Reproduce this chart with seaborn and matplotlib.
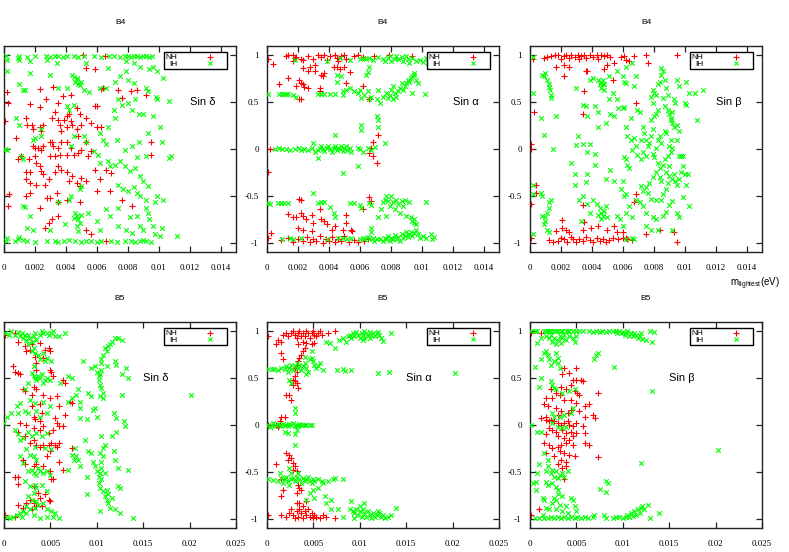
import numpy as np
import pandas as pd
import matplotlib
matplotlib.use("Agg")
import matplotlib.pyplot as plt
from matplotlib.lines import Line2D
from matplotlib.ticker import FuncFormatter, MultipleLocator
import seaborn as sns

# points: (m_lightest in units of 1e-3 eV, sin value)

# ---------- B4, sin delta ----------
b4_delta_nh = [
    (0.2, 0.61), (0.28, 0.49), (0.06, 0.30), (0.3, -0.48), (0.24, -0.61), (2.33, 0.64),
    (1.7, 0.48), (2.3, 0.45), (2.7, 0.53), (3.2, 0.66), (3.5, 0.49), (3.8, 0.57), (4.3, 0.58),
    (4.7, 0.44), (4.9, 0.37), (5.9, 0.46), (6.0, 0.46), (6.25, 0.64), (6.4, 0.65), (7.4, 0.63),
    (7.6, 0.55), (8.2, 0.62), (8.6, 0.63), (9.2, 0.58), (5.1, 1.0), (5.3, 0.86), (5.9, 0.85),
    (1.4, 0.33), (1.5, 0.26), (1.8, 0.26), (1.9, 0.21), (2.3, 0.24), (2.4, 0.19), (2.5, 0.26),
    (3.1, 0.33), (3.3, 0.39), (3.5, 0.31), (3.6, 0.26), (3.9, 0.31), (4.05, 0.35), (4.2, 0.37),
    (4.3, 0.30), (4.4, 0.26), (4.05, 0.23), (3.7, 0.19), (4.7, 0.21), (4.8, 0.14), (5.0, 0.26),
    (5.3, 0.33), (5.6, 0.28), (6.0, 0.23), (6.3, 0.24),
    (1.9, 0.03), (2.0, 0.01), (2.2, 0.01), (2.4, -0.01), (2.5, 0.03), (3.0, 0.08), (3.1, 0.07),
    (3.2, 0.03), (3.5, 0.01), (3.7, 0.08), (4.05, 0.07), (4.3, 0.01), (4.5, -0.06), (4.8, -0.04),
    (5.0, -0.01), (5.3, 0.08), (5.45, -0.08), (5.6, -0.02), (4.05, -0.06), (3.6, -0.06),
    (3.3, -0.08), (3.0, -0.08), (2.0, -0.08), (1.6, -0.11), (1.1, -0.08), (0.8, 0.12), (0.9, -0.11),
    (1.4, -0.25), (1.7, -0.25), (1.4, -0.32), (1.7, -0.36), (2.1, -0.15), (2.3, -0.18),
    (2.4, -0.24), (2.5, -0.27), (2.1, -0.38), (2.65, -0.38), (2.9, -0.32), (3.3, -0.25),
    (3.5, -0.18), (3.7, -0.22), (4.05, -0.25), (4.2, -0.34), (4.4, -0.29), (4.7, -0.36),
    (5.0, -0.31), (5.3, -0.34), (5.9, -0.22), (6.0, -0.45), (6.2, -0.32), (6.6, -0.22),
    (6.85, -0.45), (6.95, -0.26),
    (1.4, -0.50), (1.7, -0.47), (2.8, -0.52), (3.0, -0.52), (3.4, -0.47), (3.5, -0.57),
    (4.05, -0.54), (2.3, -0.63), (4.9, -0.57), (4.9, -0.40), (3.1, -0.75), (2.9, -0.79),
    (2.65, -0.84), (3.5, -0.72), (5.3, -0.86), (5.6, -0.91), (6.6, -0.98), (7.6, -0.54),
    (8.25, -0.61), (9.5, -0.06), (9.5, 0.07), (6.5, 0.99),
]
b4_delta_ih = [
    (0.1, 0.99), (1.0, 0.99), (1.5, 0.98), (2.0, 0.99), (2.7, 0.99), (3.0, 0.98), (3.3, 0.99),
    (3.5, 0.99), (3.8, 0.98), (4.1, 0.99), (4.5, 0.99), (4.8, 0.98), (5.2, 0.99), (5.8, 0.99),
    (6.3, 0.98), (6.8, 0.99), (7.1, 0.99), (7.5, 0.98), (7.8, 0.99), (8.0, 0.99), (8.2, 0.98),
    (8.4, 0.99), (8.6, 0.99), (8.8, 0.98), (9.0, 0.99), (9.2, 0.99), (9.4, 0.98), (9.6, 0.99),
    (0.17, 0.95), (0.9, 0.97), (1.0, 0.95), (1.7, 0.94), (2.75, 0.95), (3.4, 0.92), (5.3, 0.92),
    (6.75, 0.86), (7.9, 0.94), (8.4, 0.92), (8.8, 0.88), (9.4, 0.85), (9.65, 0.88), (9.9, 0.83),
    (10.3, 0.76), (4.7, 0.74), (4.5, 0.77), (4.6, 0.72), (4.8, 0.69), (4.9, 0.68), (4.7, 0.76),
    (5.0, 0.72), (4.4, 0.79), (0.2, 0.83), (1.0, 0.69), (1.25, 0.63), (1.35, 0.63), (1.7, 0.81),
    (3.0, 0.79), (3.5, 0.65), (4.05, 0.65), (5.2, 0.63), (5.5, 0.61), (6.2, 0.65), (6.6, 0.65),
    (7.2, 0.72), (7.5, 0.78), (7.9, 0.83), (8.0, 0.74), (8.4, 0.70), (9.2, 0.65), (9.3, 0.62),
    (9.8, 0.56), (9.9, 0.53), (10.7, 0.51),
    (0.8, 0.33), (1.0, 0.26), (1.9, 0.10), (2.0, 0.12), (2.4, 0.21), (4.05, 0.46), (4.2, 0.42),
    (4.5, 0.47), (4.5, 0.14), (5.2, 0.14), (5.3, 0.07), (6.2, 0.17), (6.4, 0.10), (6.6, 0.05),
    (6.75, 0.24), (7.1, 0.42), (7.2, 0.33), (7.4, 0.53), (7.6, 0.47), (8.0, 0.49), (8.25, 0.42),
    (8.5, 0.53), (8.7, 0.37), (9.0, 0.37), (9.65, 0.35), (10.1, 0.24), (9.3, 0.17), (10.2, 0.07),
    (10.8, -0.08), (10.7, -0.10), (7.3, 0.10), (7.8, -0.01), (8.25, 0.03), (8.7, 0.07),
    (8.6, -0.09), (9.2, -0.08),
    (0.06, 0.0), (0.17, -0.01), (1.1, -0.08), (1.25, -0.11), (2.4, 0.14), (4.3, 0.03),
    (5.8, -0.02), (6.1, -0.06), (6.2, -0.15), (6.75, -0.13), (6.85, -0.18), (7.2, -0.17),
    (7.5, -0.13), (7.8, -0.18), (8.15, -0.24), (8.5, -0.20), (8.8, -0.29), (9.0, -0.34),
    (9.3, -0.40), (7.4, -0.38), (7.7, -0.43), (8.0, -0.45), (8.4, -0.41), (8.6, -0.47),
    (8.8, -0.50), (9.2, -0.54), (9.75, -0.57), (10.3, -0.54), (9.9, -0.50),
    (1.25, -0.61), (1.35, -0.62), (1.7, -0.72), (1.5, -0.84), (1.9, -0.86), (3.0, -0.86),
    (3.5, -0.57), (3.95, -0.80), (4.2, -0.54), (4.3, -0.50), (4.9, -0.43), (5.0, -0.40),
    (4.7, -0.72), (4.6, -0.68), (4.8, -0.75), (4.9, -0.79), (4.7, -0.82), (4.5, -0.74),
    (5.0, -0.70), (4.8, -0.88), (5.45, -0.68), (6.0, -0.77), (6.2, -0.86), (6.6, -0.64),
    (6.85, -0.72), (7.4, -0.63), (7.4, -0.82), (7.9, -0.86), (8.15, -0.73), (8.25, -0.90),
    (8.6, -0.72), (8.8, -0.82), (9.0, -0.86), (9.2, -0.63), (9.3, -0.68), (9.4, -0.75),
    (9.65, -0.82), (9.75, -0.91), (10.1, -0.93), (10.2, -0.84), (11.2, -0.93),
    (0.1, -0.98), (0.7, -0.98), (1.2, -0.97), (1.5, -0.98), (2.0, -0.99), (2.8, -0.98),
    (3.3, -0.98), (3.5, -0.99), (3.9, -0.98), (4.2, -0.97), (4.6, -0.98), (5.0, -0.99),
    (5.3, -0.98), (5.6, -0.98), (6.0, -0.99), (6.3, -0.98), (6.9, -0.98), (7.3, -0.99),
    (7.8, -0.98), (8.2, -0.98), (8.5, -0.99), (8.8, -0.98), (9.0, -0.97), (9.2, -0.98),
    (9.5, -0.99), (0.17, -0.95), (0.9, -0.96), (1.0, -0.94),
]

# ---------- B4, sin alpha ----------
b4_alpha_nh = [
    (0.06, 0.96), (0.4, 0.91), (1.25, 0.99), (1.35, 1.0), (1.7, 1.0), (1.8, 0.97), (1.9, 0.98),
    (2.2, 0.96), (2.3, 0.95), (2.65, 0.99), (3.0, 0.96), (3.3, 1.0), (3.5, 0.98), (3.7, 1.0),
    (3.85, 0.95), (4.05, 0.99), (4.4, 1.0), (4.5, 0.97), (4.6, 0.94), (4.8, 0.99), (5.0, 1.0),
    (5.1, 0.96), (5.6, 0.99), (5.9, 1.0), (6.2, 0.98), (6.95, 0.99), (7.9, 1.0), (9.4, 0.99),
    (1.7, 0.94), (2.3, 0.87), (2.8, 0.88), (3.1, 0.90), (2.65, 0.83), (3.1, 0.83), (3.5, 0.79),
    (3.6, 0.78), (3.7, 0.81), (4.3, 0.88), (4.5, 0.88), (4.7, 0.85), (5.0, 0.88), (5.35, 0.82),
    (1.35, 0.76), (2.1, 0.74), (2.2, 0.70), (2.3, 0.69), (2.4, 0.66), (2.65, 0.65), (1.9, 0.67),
    (0.8, 0.69), (3.4, 0.65), (3.4, 0.62), (5.1, 0.70), (6.2, 0.67), (6.6, 0.53), (2.1, 0.53),
    (2.2, 0.53),
    (0.17, 0.0), (6.85, 0.08), (6.75, 0.01), (6.6, -0.04), (6.85, -0.08), (7.1, -0.15),
    (7.2, 0.15), (0.06, -0.25),
    (2.1, -0.53), (2.2, -0.54), (0.28, -0.90), (0.06, -0.95), (1.35, -0.69), (1.7, -0.73),
    (1.9, -0.73), (2.2, -0.68), (2.3, -0.72), (2.5, -0.75), (2.9, -0.70), (3.0, -0.79),
    (3.4, -0.64), (3.5, -0.75), (3.7, -0.77), (3.85, -0.80), (4.4, -0.82), (5.1, -0.70),
    (5.1, -0.79), (6.6, -0.51), (6.75, -0.56), (6.2, -0.64), (2.0, -0.84), (2.3, -0.86),
    (2.9, -0.88), (4.2, -0.86), (4.9, -0.86), (5.45, -0.86), (5.5, -0.88),
    (0.9, -0.97), (1.35, -0.95), (1.7, -0.99), (2.0, -0.96), (2.3, -0.98), (2.6, -0.94),
    (2.8, -0.99), (3.0, -0.96), (3.2, -0.98), (3.4, -0.93), (3.6, -1.0), (3.8, -0.96),
    (4.0, -0.98), (4.2, -0.94), (4.4, -0.99), (4.6, -0.96), (4.8, -0.98), (5.0, -0.93),
    (5.3, -0.99), (5.6, -0.97), (5.9, -0.99), (6.3, -0.98), (6.5, -0.96),
]
b4_alpha_ih = [
    (1.8, 0.95), (3.85, 0.94), (4.7, 0.97), (5.35, 0.95), (6.0, 0.96), (6.2, 0.97), (6.4, 0.96),
    (6.6, 0.97), (6.85, 0.95), (7.2, 0.98), (7.5, 0.96), (7.6, 0.94), (7.8, 0.97), (7.95, 0.99),
    (8.0, 0.94), (8.25, 0.96), (8.35, 0.99), (8.5, 0.96), (8.7, 0.98), (8.8, 0.94), (9.0, 0.99),
    (9.1, 0.96), (9.2, 0.92), (9.4, 0.97), (9.65, 0.94), (9.9, 0.95), (10.1, 0.93), (10.3, 0.97),
    (10.4, 0.92), (4.5, 0.79), (4.5, 0.72), (4.8, 0.78), (6.4, 0.79), (6.5, 0.82), (6.6, 0.88),
    (0.06, 0.59), (0.8, 0.59), (1.0, 0.59), (1.1, 0.59), (1.25, 0.59), (1.35, 0.59), (1.7, 0.58),
    (1.9, 0.56), (3.3, 0.59), (3.5, 0.59), (3.7, 0.59), (4.05, 0.59), (4.4, 0.59), (4.9, 0.58),
    (4.9, 0.62), (5.1, 0.63), (5.35, 0.65), (5.6, 0.62), (5.9, 0.60), (6.0, 0.63), (6.1, 0.55),
    (6.3, 0.58), (6.5, 0.62), (6.75, 0.56), (6.6, 0.53), (7.1, 0.53), (7.2, 0.63), (7.3, 0.49),
    (7.5, 0.56), (7.7, 0.60), (7.95, 0.58), (8.0, 0.63), (8.15, 0.67), (8.25, 0.60), (8.35, 0.56),
    (8.5, 0.62), (8.6, 0.65), (8.7, 0.70), (8.8, 0.63), (8.9, 0.67), (9.0, 0.70), (9.1, 0.74),
    (9.2, 0.72), (9.3, 0.76), (9.4, 0.78), (9.5, 0.79), (9.65, 0.74), (9.5, 0.81), (9.75, 0.70),
    (9.4, 0.60), (10.2, 0.59), (8.15, 0.53), (7.8, 0.55),
    (0.5, 0.0), (0.8, 0.01), (1.0, 0.0), (1.25, 0.0), (1.5, -0.01), (1.8, 0.0), (2.1, 0.01),
    (2.2, -0.01), (2.4, 0.0), (2.65, -0.01), (2.9, 0.01), (3.0, 0.06), (3.1, -0.03), (3.3, -0.01),
    (3.4, 0.01), (3.5, 0.03), (3.6, 0.0), (3.7, -0.02), (3.85, 0.01), (3.95, 0.03), (4.05, 0.0),
    (4.2, -0.03), (4.3, 0.01), (4.4, 0.15), (4.4, 0.03), (4.5, -0.01), (4.6, 0.01), (4.7, 0.0),
    (4.8, 0.03), (4.9, -0.02), (5.0, 0.01), (5.1, 0.03), (5.2, -0.01), (5.35, 0.01),
    (5.45, -0.03), (5.9, 0.01), (6.0, 0.0), (6.1, 0.26), (6.1, 0.20), (5.9, -0.18),
    (4.9, -0.26), (3.3, -0.10), (6.2, -0.03), (6.5, 0.01), (6.75, -0.01), (7.1, 0.35),
    (7.2, 0.31), (7.2, 0.24), (7.6, 0.06), (7.0, 0.02),
    (0.06, -0.58), (0.17, -0.59), (0.7, -0.58), (0.9, -0.58), (1.1, -0.58), (1.35, -0.58),
    (3.0, -0.47), (3.3, -0.58), (3.5, -0.57), (3.7, -0.57), (4.05, -0.62), (4.3, -0.68),
    (4.4, -0.73), (5.35, -0.58), (5.6, -0.58), (6.0, -0.60), (6.1, -0.63), (6.6, -0.58),
    (6.75, -0.60), (7.2, -0.73), (7.4, -0.64), (7.5, -0.57), (7.6, -0.54), (7.7, -0.50),
    (7.8, -0.56), (7.95, -0.61), (8.0, -0.50), (8.15, -0.57), (8.25, -0.64), (8.35, -0.54),
    (8.5, -0.59), (8.6, -0.68), (8.7, -0.56), (8.8, -0.61), (8.9, -0.54), (9.0, -0.72),
    (9.2, -0.57), (10.3, -0.57), (7.7, -0.72),
    (9.3, -0.73), (9.4, -0.77), (9.5, -0.79), (9.65, -0.80), (9.5, -0.75), (6.75, -0.84),
    (6.75, -0.89),
    (1.0, -0.96), (1.5, -0.95), (1.7, -0.96), (2.2, -0.95), (3.85, -0.96), (4.6, -0.95),
    (4.9, -0.95), (5.2, -0.96), (5.45, -0.95), (6.0, -0.96), (6.2, -0.95), (6.3, -0.96),
    (6.5, -0.94), (6.6, -0.96), (6.85, -0.95), (6.95, -0.98), (7.1, -0.96), (7.3, -0.96),
    (7.5, -0.98), (7.6, -0.95), (7.7, -0.96), (7.8, -0.93), (7.95, -0.98), (8.0, -0.95),
    (8.15, -0.96), (8.25, -0.92), (8.35, -0.96), (8.5, -0.94), (8.6, -0.98), (8.7, -0.91),
    (8.8, -0.95), (8.9, -0.93), (9.0, -0.89), (9.1, -0.94), (9.2, -0.91), (9.3, -0.89),
    (9.4, -0.93), (9.5, -0.90), (9.65, -0.86), (9.75, -0.91), (9.9, -0.95), (10.1, -0.93),
    (10.3, -0.95), (10.6, -0.91), (10.7, -0.96), (10.8, -0.94),
]

# ---------- B4, sin beta ----------
b4_beta_nh = [
    (0.17, 0.96), (0.9, 0.97), (1.1, 0.98), (1.35, 0.99), (1.6, 1.0), (1.8, 1.0), (2.0, 0.96),
    (2.2, 0.99), (2.3, 1.0), (2.5, 0.97), (2.65, 1.0), (2.9, 0.98), (3.1, 1.0), (3.2, 0.96),
    (3.3, 0.99), (3.5, 1.0), (3.6, 0.97), (3.85, 1.0), (4.05, 0.98), (4.3, 1.0), (4.4, 0.96),
    (4.6, 1.0), (4.8, 0.99), (5.0, 1.0), (5.2, 0.98), (5.0, 0.90), (5.45, 0.92), (5.9, 0.98),
    (6.1, 0.99), (6.2, 0.95), (6.4, 0.94), (6.75, 0.99), (7.5, 1.0), (7.6, 0.92), (9.5, 1.0),
    (1.7, 0.88), (2.2, 0.90), (2.5, 0.88), (2.2, 0.78), (3.6, 0.83), (3.7, 0.83), (4.8, 0.85),
    (5.35, 0.74), (3.5, 0.62), (3.4, 0.37), (6.85, 0.49), (0.28, 0.39), (0.06, 0.05),
    (0.06, 0.0), (0.4, -0.38), (0.4, -0.47), (6.85, -0.48), (6.75, -0.57), (3.4, -0.60),
    (0.06, -0.59), (2.1, -0.76), (2.1, -0.84), (1.7, -0.88), (2.3, -0.86), (2.5, -0.89),
    (3.5, -0.78), (3.4, -0.86), (3.95, -0.84), (4.4, -0.82), (5.0, -0.86), (5.45, -0.82),
    (5.6, -0.89), (6.0, -0.89), (6.2, -0.95), (7.5, -0.91), (8.4, -0.86), (9.3, -0.89),
    (9.5, -0.99), (0.06, -0.95),
    (1.25, -0.97), (1.5, -0.99), (1.8, -0.98), (2.0, -0.95), (2.2, -0.96), (2.4, -0.99),
    (2.65, -0.94), (2.75, -0.96), (3.0, -0.99), (3.2, -0.96), (3.4, -0.98), (3.6, -0.94),
    (3.85, -0.97), (4.05, -0.99), (4.3, -0.95), (4.5, -0.98), (4.7, -0.96), (4.9, -0.99),
    (5.1, -0.97), (5.35, -0.95), (5.7, -0.96), (6.0, -0.95), (6.3, -0.96), (6.6, -0.97),
]
b4_beta_ih = [
    (0.17, 0.98), (0.17, 0.60), (0.17, -0.38), (0.17, -0.48), (0.17, -0.91),
    (0.8, 0.79), (0.9, 0.78), (1.0, 0.81), (1.1, 0.74), (1.25, 0.69), (1.3, 0.63), (1.35, 0.58),
    (1.35, 0.55), (1.25, 0.66), (0.7, 0.33), (0.9, 0.15), (1.5, 0.0), (1.7, 0.35),
    (0.7, -0.47), (0.8, -0.50), (1.35, -0.54), (1.25, -0.57), (1.25, -0.63), (1.1, -0.68),
    (1.0, -0.73), (1.0, -0.77), (0.9, -0.80), (0.8, -0.72), (1.1, -0.86), (1.25, -0.89),
    (3.85, 0.74), (4.05, 0.76), (4.4, 0.74), (4.6, 0.72), (4.7, 0.69), (4.6, 0.65), (4.8, 0.63),
    (4.8, 0.69), (4.7, 0.74), (4.5, 0.69), (4.2, 0.46), (4.4, 0.39), (3.7, 0.35), (3.4, 0.47),
    (3.6, 0.46),
    (4.05, -0.54), (4.3, -0.59), (4.5, -0.63), (4.6, -0.68), (4.7, -0.72), (4.8, -0.66),
    (4.9, -0.61), (4.4, -0.70), (4.6, -0.75), (5.0, -0.73), (3.2, -0.54), (3.4, -0.50),
    (3.7, -0.59), (3.85, -0.68), (3.3, -0.77),
    (3.0, 0.65), (3.1, 0.14), (3.0, 0.04), (3.4, 0.05), (3.7, -0.03), (3.85, 0.05), (4.2, -0.05),
    (4.2, -0.17), (2.65, -0.15), (2.9, -0.27), (2.9, -0.38), (3.6, -0.35), (3.7, -0.27),
    (4.4, 0.24), (4.9, 0.28), (4.9, -0.32), (5.2, -0.22), (5.45, -0.34), (5.2, 0.37),
    (5.45, 0.35), (5.6, 0.53), (5.7, 0.44), (5.1, 0.53), (5.35, 0.60), (6.0, 0.44), (6.1, 0.45),
    (6.2, 0.70), (6.1, 0.72), (6.0, 0.78), (5.6, 0.83), (5.1, 0.78), (6.2, 0.88), (6.6, 0.92),
    (6.85, 0.78), (6.75, 0.67), (6.5, 0.33), (6.2, 0.23), (6.3, 0.14), (6.5, 0.10), (6.75, 0.12),
    (6.1, -0.09), (6.2, -0.11), (6.3, -0.17), (6.4, -0.20), (6.0, -0.34), (6.2, -0.48),
    (6.1, -0.50), (5.9, -0.43), (6.2, -0.68), (6.4, -0.61), (6.6, -0.73), (5.8, -0.75),
    (6.0, -0.82), (5.6, -0.72),
    (6.95, 0.42), (7.1, 0.39), (7.3, 0.24), (7.4, 0.17), (7.5, 0.10), (7.2, 0.10), (6.85, 0.03),
    (6.6, -0.01), (6.95, -0.06), (7.2, -0.11), (7.3, -0.03), (7.5, -0.08), (7.6, 0.03),
    (7.7, 0.06), (7.8, 0.14), (7.95, 0.21), (8.0, 0.35), (7.8, 0.31), (8.15, 0.37), (8.25, 0.42),
    (7.95, 0.49), (7.8, 0.56), (7.95, 0.63), (8.0, 0.60), (8.15, 0.58), (8.25, 0.69), (8.4, 0.72),
    (8.5, 0.79), (8.6, 0.83), (8.5, 0.86), (8.7, 0.74), (8.8, 0.65), (8.6, 0.55), (8.7, 0.46),
    (8.9, 0.42), (9.0, 0.37), (9.1, 0.33), (9.2, 0.39), (9.2, 0.28), (9.3, 0.23), (9.5, 0.26),
    (9.65, 0.19), (9.5, 0.10), (9.1, 0.10), (9.0, 0.03), (9.1, -0.03), (9.2, 0.01), (8.9, -0.08),
    (8.7, -0.11), (8.6, -0.17), (8.4, 0.14), (8.25, 0.10), (8.5, 0.06), (8.15, 0.01),
    (7.95, -0.05), (8.0, -0.09), (8.25, -0.15), (8.4, -0.20), (8.15, -0.25), (7.95, -0.30),
    (7.7, -0.36), (7.5, -0.41), (7.3, -0.45), (7.2, -0.40), (7.6, -0.47), (7.8, -0.53),
    (8.15, -0.54), (8.5, -0.54), (8.6, -0.48), (8.8, -0.43), (8.9, -0.36), (9.0, -0.29),
    (9.2, -0.32), (9.3, -0.27), (9.4, -0.34), (9.5, -0.38), (9.65, -0.32), (9.75, -0.25),
    (9.9, -0.18), (9.75, -0.08), (10.0, -0.27), (10.2, -0.27), (10.1, -0.38), (9.9, -0.51),
    (10.3, -0.61), (9.5, -0.68), (9.65, -0.73), (9.2, -0.56), (9.0, -0.60), (8.8, -0.67),
    (8.6, -0.72), (8.15, -0.75), (7.95, -0.73), (7.5, -0.68), (7.3, -0.61), (7.1, -0.57),
    (6.85, -0.54), (7.5, -0.82), (7.8, -0.86), (8.25, -0.86), (9.2, -0.86),
    (9.5, 0.74), (9.65, 0.67), (10.1, 0.72), (10.3, 0.60), (10.0, 0.49), (10.1, 0.47),
    (10.7, 0.60), (11.2, 0.63), (10.8, 0.31), (9.9, -0.08), (9.65, -0.08),
    (8.9, 0.58), (9.4, 0.49), (9.3, 0.53), (9.1, 0.31), (8.7, 0.19), (8.8, 0.17), (9.0, -0.18),
    (8.8, -0.25), (8.4, -0.30), (8.5, -0.34), (6.6, -0.95), (6.75, -0.96), (6.2, -0.96),
]

# ---------- B5, sin delta ----------
b5_delta_nh = [
    (0.1, 0.96), (1.2, 0.98), (1.5, 0.89), (2.3, 0.84), (2.4, 0.79), (2.8, 0.80), (3.0, 0.86),
    (3.3, 0.73), (3.5, 0.66), (3.9, 0.88), (4.4, 0.80), (4.8, 0.82), (5.0, 0.79), (4.2, 0.72),
    (3.5, 0.59), (5.0, 0.59), (5.1, 0.57), (5.3, 0.52), (6.4, 0.48), (6.6, 0.45), (1.0, 0.63),
    (1.5, 0.56), (1.7, 0.54), (1.2, 0.57), (2.1, 0.38), (2.3, 0.36), (3.0, 0.32), (3.2, 0.41),
    (3.5, 0.38), (4.2, 0.32), (5.0, 0.29), (5.7, 0.31), (5.9, 0.20), (7.1, 0.25), (7.3, 0.23),
    (6.6, 0.11), (3.0, 0.20), (3.9, 0.22), (4.1, 0.13), (3.2, 0.09), (3.3, 0.06), (3.9, 0.04),
    (4.2, -0.01), (5.5, 0.07), (5.7, 0.02), (5.9, -0.01), (6.4, -0.01), (5.3, -0.05),
    (4.8, -0.09), (3.9, -0.05), (3.2, -0.03), (2.4, 0.0), (1.7, 0.02), (1.5, -0.07),
    (2.3, -0.12), (2.8, -0.19), (3.2, -0.16), (3.5, -0.21), (3.9, -0.23), (4.2, -0.21),
    (4.8, -0.21), (5.1, -0.19), (5.5, -0.21), (5.9, -0.19), (5.7, -0.23), (5.0, -0.28),
    (4.6, -0.33), (7.3, -0.25), (5.9, -0.39), (6.4, -0.48), (2.1, -0.37), (2.3, -0.42),
    (3.2, -0.44), (3.5, -0.42), (4.2, -0.44), (5.0, -0.49), (5.1, -0.58), (5.3, -0.58),
    (1.2, -0.55), (1.5, -0.55), (1.5, -0.63), (3.2, -0.65), (3.7, -0.73), (3.9, -0.78),
    (4.4, -0.74), (4.8, -0.80), (5.0, -0.81), (2.8, -0.80), (3.2, -0.83), (3.5, -0.87),
    (2.4, -0.83), (2.1, -0.89), (1.5, -0.85), (0.1, -0.96), (1.2, -0.98), (3.0, -0.90),
    (4.1, -0.87),
]
b5_delta_ih = [
    (0.1, 0.98), (0.5, 0.96), (0.8, 1.0), (1.2, 0.96), (1.5, 0.99), (1.7, 0.95), (1.9, 0.98),
    (2.1, 0.93), (2.3, 0.96), (2.4, 0.91), (2.6, 0.96), (2.8, 0.93), (3.0, 0.89), (3.2, 0.95),
    (3.3, 0.98), (3.5, 0.91), (3.9, 0.96), (4.1, 1.0), (4.2, 0.98), (4.6, 0.98), (4.8, 0.96),
    (5.1, 0.98), (5.3, 1.0), (5.5, 0.95), (5.9, 0.95), (6.6, 0.98),
    (2.6, 0.86), (3.2, 0.82), (3.0, 0.79), (3.3, 0.77), (3.7, 0.75), (3.9, 0.70), (4.2, 0.77),
    (4.4, 0.68), (4.6, 0.72), (5.1, 0.68),
    (3.2, 0.63), (3.0, 0.56), (3.2, 0.52), (3.3, 0.50), (3.5, 0.48), (3.7, 0.52), (3.9, 0.50),
    (4.1, 0.54), (4.4, 0.48), (4.6, 0.50), (4.2, 0.45), (5.0, 0.48), (6.0, 0.45), (2.6, 0.45),
    (2.3, 0.38), (1.7, 0.23), (1.4, 0.20), (0.8, 0.13), (0.3, 0.09), (0.0, 0.02), (1.5, 0.13),
    (2.3, 0.15), (2.6, 0.13), (3.5, 0.15), (4.6, 0.13), (3.9, 0.09), (5.0, 0.20), (3.3, 0.23),
    (2.8, 0.27), (4.2, 0.25),
    (1.2, -0.05), (1.5, -0.10), (1.7, -0.16), (2.1, -0.14), (2.6, -0.07), (3.0, -0.12),
    (3.5, -0.09), (4.1, -0.12), (4.6, -0.09), (3.3, -0.23), (4.4, -0.25), (5.1, -0.26),
    (2.4, -0.26), (2.8, -0.32), (3.2, -0.33), (3.5, -0.37), (1.7, -0.33), (2.1, -0.41),
    (2.6, -0.49), (3.0, -0.48), (3.2, -0.51), (3.5, -0.53), (3.9, -0.49), (4.2, -0.51),
    (4.6, -0.49), (5.0, -0.53), (3.7, -0.46),
    (2.3, -0.60), (2.8, -0.65), (3.3, -0.64), (3.5, -0.67), (4.1, -0.64), (4.6, -0.71),
    (3.2, -0.73), (2.6, -0.76), (3.0, -0.80), (3.5, -0.81), (2.4, -0.87), (2.8, -0.90),
    (3.3, -0.89), (3.7, -0.85), (4.2, -0.83), (4.6, -0.90), (5.1, -0.92), (5.5, -0.94),
    (2.1, -0.92), (1.7, -0.94), (1.4, -0.96), (1.0, -0.98), (0.6, -0.99), (0.3, -0.98),
    (1.9, -0.98), (2.4, -0.94), (3.2, -0.96), (3.9, -0.99), (4.6, -0.98), (5.3, -0.98),
    (5.9, -0.99),
    (6.9, 0.52), (7.3, 0.50), (8.0, 0.38), (7.8, 0.32), (7.3, 0.29), (6.9, 0.25), (8.2, 0.25),
    (8.2, 0.18), (8.2, 0.07), (8.5, 0.68), (9.1, 0.34), (9.4, 0.31), (9.8, 0.18), (9.6, 0.16),
    (10.0, 0.09), (8.9, 0.06), (9.4, 0.61), (9.8, 0.63), (10.0, 0.57), (10.2, 0.52),
    (10.2, 0.48), (10.3, 0.54), (10.5, 0.59), (10.5, 0.66), (10.3, 0.43), (10.5, 0.40),
    (10.7, 0.34), (10.7, 0.29), (10.3, 0.31), (10.5, 0.70), (10.7, 0.75), (11.1, 0.79),
    (10.9, 0.82), (11.2, 0.84), (11.4, 0.86), (11.6, 0.89), (12.0, 0.93), (12.3, 0.93),
    (12.7, 0.91), (11.1, 0.63), (12.0, 0.68), (12.1, 0.64), (12.7, 0.54), (13.2, 0.61),
    (13.4, 0.50), (12.7, 0.32), (11.8, 0.13), (12.1, 0.07), (12.9, 0.04), (13.0, -0.01),
    (12.1, -0.07), (11.6, -0.12), (10.5, -0.12), (8.7, -0.16), (7.6, -0.25), (7.3, -0.32),
    (7.5, -0.37), (8.0, -0.37), (8.2, -0.44), (6.9, -0.48), (7.8, -0.33), (8.9, -0.55),
    (8.9, -0.74), (9.1, -0.28), (9.4, -0.30), (9.6, -0.39), (9.8, -0.44), (10.0, -0.49),
    (10.2, -0.55), (10.3, -0.51), (10.5, -0.46), (10.5, -0.39), (10.7, -0.33), (10.7, -0.25),
    (10.9, -0.21), (10.3, -0.30), (10.2, -0.62), (10.3, -0.67), (10.5, -0.58), (10.7, -0.71),
    (10.9, -0.76), (11.1, -0.80), (11.2, -0.83), (11.4, -0.89), (11.1, -0.69), (11.2, -0.74),
    (11.6, -0.78), (10.9, -0.51), (11.8, -0.28), (12.0, -0.37), (12.3, -0.46), (12.3, -0.65),
    (12.5, -0.67), (13.4, -0.48), (12.0, -0.90), (12.5, -0.94), (10.3, -0.92), (13.9, -0.99),
    (20.2, 0.32),
]

# ---------- B5, sin alpha ----------
b5_alpha_nh = [
    (0.1, 0.95), (1.0, 0.86), (1.2, 0.91), (1.5, 0.89), (1.7, 0.96), (2.1, 0.98), (2.3, 0.95),
    (2.6, 0.98), (2.8, 1.0), (3.0, 0.96), (3.2, 0.93), (3.3, 0.98), (3.5, 1.0), (3.7, 0.95),
    (3.9, 0.98), (4.1, 0.95), (4.2, 1.0), (4.4, 0.98), (4.6, 0.93), (4.8, 0.98), (5.0, 1.0),
    (5.1, 0.96), (5.3, 0.95), (5.5, 0.98), (5.7, 1.0), (5.9, 0.96), (6.6, 0.98), (7.3, 1.0),
    (3.9, 0.89), (4.2, 0.88), (4.8, 0.86), (5.1, 0.88), (3.3, 0.86),
    (1.5, 0.77), (1.7, 0.70), (4.1, 0.82), (3.9, 0.79), (3.7, 0.75), (3.5, 0.72), (3.3, 0.68),
    (3.2, 0.64), (3.0, 0.61), (3.2, 0.57), (3.0, 0.52), (2.8, 0.48), (3.0, 0.47), (2.8, 0.43),
    (3.2, 0.45), (3.3, 0.39), (2.4, 0.32), (2.1, 0.32), (2.6, 0.27),
    (1.5, 0.09), (1.9, 0.09), (1.4, 0.04), (1.0, 0.0), (1.2, -0.02), (0.1, 0.0),
    (2.1, -0.30), (2.4, -0.32), (2.3, -0.37), (2.6, -0.35), (2.8, -0.41), (3.0, -0.44),
    (2.8, -0.48), (3.2, -0.49), (1.0, -0.42), (1.5, -0.58), (1.7, -0.69), (1.5, -0.76),
    (3.3, -0.64), (3.5, -0.67), (3.7, -0.69), (3.2, -0.73),
    (0.1, -0.96), (1.5, -0.96), (2.1, -0.98), (2.4, -0.94), (2.6, -0.90), (2.8, -0.96),
    (3.0, -0.99), (3.2, -0.92), (3.3, -0.98), (3.5, -0.90), (3.7, -0.94), (3.9, -0.99),
    (4.1, -0.92), (4.2, -0.96), (4.4, -0.90), (4.6, -0.98), (4.8, -0.94), (5.0, -0.99),
    (5.1, -0.96), (5.3, -0.98), (5.7, -0.99), (6.0, -0.96), (6.4, -0.98), (7.3, -0.99),
    (3.5, -0.83), (3.9, -0.87), (4.2, -0.81), (3.2, -0.83),
]
b5_alpha_ih = [
    (6.4, 0.89), (6.8, 0.88), (7.3, 0.82), (7.8, 0.91), (8.2, 0.93), (8.5, 0.89), (8.7, 0.95),
    (8.9, 0.96), (9.1, 0.93), (9.3, 0.98), (9.4, 0.95), (9.6, 0.99), (9.8, 0.96), (10.0, 0.93),
    (10.2, 0.98), (10.3, 0.96), (10.5, 1.0), (10.5, 0.93), (10.7, 0.98), (10.9, 0.95),
    (11.1, 0.99), (11.1, 0.93), (11.2, 0.96), (11.4, 0.98), (11.6, 0.95), (11.8, 0.98),
    (12.0, 0.99), (12.1, 0.96), (12.3, 0.93), (12.5, 0.90), (13.4, 0.98), (10.3, 0.91),
    (0.1, 0.60), (0.5, 0.60), (0.8, 0.60), (1.2, 0.59), (1.5, 0.61), (1.9, 0.60), (2.1, 0.63),
    (2.3, 0.57), (2.4, 0.61), (2.6, 0.64), (2.8, 0.59), (3.0, 0.63), (3.2, 0.66), (3.3, 0.61),
    (3.5, 0.64), (3.7, 0.59), (3.9, 0.63), (4.1, 0.66), (4.2, 0.61), (4.4, 0.57), (4.6, 0.70),
    (4.8, 0.72), (5.0, 0.68), (5.1, 0.64), (5.3, 0.61), (5.5, 0.63), (5.7, 0.66), (6.0, 0.59),
    (4.8, 0.79), (4.1, 0.73), (2.4, 0.48), (2.6, 0.45), (4.2, 0.54), (7.5, 0.59), (8.2, 0.60),
    (8.4, 0.58), (9.1, 0.59), (12.0, 0.56), (13.2, 0.57), (20.3, 0.56),
    (0.1, 0.0), (0.5, 0.0), (0.6, 0.02), (0.8, -0.01), (1.2, 0.01), (1.4, 0.0), (1.5, -0.01),
    (1.7, 0.01), (1.9, 0.0), (2.1, 0.0), (2.3, -0.01), (2.4, 0.01), (2.6, 0.0), (2.8, 0.02),
    (3.0, -0.01), (3.2, 0.0), (3.3, -0.01), (3.5, 0.01), (3.7, 0.0), (3.9, 0.0), (4.1, 0.0),
    (4.2, 0.0), (4.6, 0.0), (4.8, 0.0), (3.0, 0.18), (3.0, 0.13), (3.0, -0.10), (3.0, -0.21),
    (2.3, -0.09), (1.9, -0.07), (3.2, -0.05), (0.3, -0.02),
    (0.1, -0.58), (0.6, -0.59), (1.2, -0.60), (1.4, -0.51), (1.5, -0.57), (1.7, -0.62),
    (1.9, -0.58), (2.1, -0.55), (2.3, -0.60), (2.4, -0.64), (2.6, -0.58), (2.8, -0.57),
    (3.0, -0.60), (3.2, -0.55), (3.3, -0.51), (3.5, -0.58), (3.7, -0.62), (3.9, -0.57),
    (4.1, -0.60), (4.2, -0.58), (4.4, -0.55), (4.6, -0.60), (4.8, -0.62), (5.0, -0.58),
    (5.1, -0.60), (5.5, -0.58), (5.9, -0.60), (5.5, -0.67), (5.0, -0.69), (5.1, -0.78),
    (4.6, -0.73), (4.2, -0.80), (6.2, -0.76), (6.4, -0.83), (6.9, -0.80), (6.9, -0.90),
    (7.1, -0.58), (7.3, -0.57), (8.2, -0.58), (6.6, -0.60), (6.0, -0.62), (2.6, -0.51),
    (2.4, -0.46),
    (7.6, -0.90), (8.2, -0.98), (9.1, -0.81), (8.9, -0.90), (9.3, -0.92), (9.4, -0.94),
    (9.6, -0.90), (9.8, -0.96), (10.0, -0.92), (10.2, -0.98), (10.3, -0.90), (10.5, -0.94),
    (10.5, -0.83), (10.7, -0.98), (10.9, -0.92), (11.1, -0.96), (11.2, -0.99), (11.4, -0.94),
    (11.6, -0.98), (11.8, -0.96), (12.0, -0.92), (12.1, -0.94), (12.3, -0.98), (12.5, -0.96),
    (12.7, -0.99), (13.0, -0.98), (13.4, -0.96), (13.9, -0.89), (10.0, -0.87), (9.4, -0.99),
]

# ---------- B5, sin beta ----------
b5_beta_nh = [
    (0.1, 0.98), (1.2, 0.98), (1.0, -0.90), (0.1, -0.96), (3.7, 0.61), (5.0, 0.61), (3.5, 0.54),
    (4.2, 0.56), (4.6, 0.48), (5.0, 0.48), (5.5, 0.48), (5.7, 0.47), (4.4, 0.43), (3.3, 0.41),
    (3.9, 0.38), (4.8, 0.36), (5.1, 0.34), (5.3, 0.32), (2.3, 0.38), (2.8, 0.34), (3.2, 0.32),
    (1.7, 0.29), (2.4, 0.29), (7.3, 0.34), (6.4, 0.22), (5.9, 0.20), (5.0, 0.23), (4.4, 0.27),
    (3.7, 0.27), (1.9, 0.20), (1.5, 0.22), (2.8, 0.18), (3.3, 0.15), (4.1, 0.13), (4.4, 0.16),
    (5.3, 0.15), (5.9, 0.09), (6.8, 0.11), (7.0, 0.07), (1.2, 0.07), (1.7, 0.05), (2.3, 0.05),
    (2.6, 0.04), (3.0, 0.02), (3.3, 0.0), (3.7, 0.02), (4.1, 0.04), (4.2, 0.0), (4.6, -0.01),
    (5.0, 0.02), (5.7, -0.01), (2.1, -0.03), (2.4, -0.05), (2.8, -0.07), (3.5, -0.05),
    (3.9, -0.09), (4.4, -0.07), (5.0, -0.09), (5.9, -0.09), (1.7, -0.10), (3.0, -0.12),
    (3.7, -0.14), (4.2, -0.16), (4.6, -0.12), (1.5, -0.19), (2.1, -0.21), (2.4, -0.25),
    (3.0, -0.23), (3.3, -0.21), (3.9, -0.19), (4.6, -0.21), (5.9, -0.19), (6.4, -0.21),
    (3.2, -0.28), (3.7, -0.30), (4.2, -0.32), (2.6, -0.33), (3.3, -0.37), (3.9, -0.39),
    (4.8, -0.33), (3.0, -0.42), (3.5, -0.46), (3.9, -0.44), (7.3, -0.34), (3.7, -0.58),
    (1.7, -0.30), (2.1, 0.04), (3.0, 0.11), (1.7, 0.09),
]
b5_beta_ih = [
    (0.1, 1.0), (0.5, 1.0), (0.8, 1.0), (1.5, 1.0), (1.7, 1.0), (1.9, 1.0), (2.1, 1.0), (2.3, 1.0),
    (2.6, 1.0), (2.8, 1.0), (3.0, 1.0), (3.3, 1.0), (3.5, 1.0), (3.9, 1.0), (4.1, 1.0), (4.2, 1.0),
    (4.6, 1.0), (5.0, 1.0), (5.3, 1.0), (5.7, 1.0), (1.7, 0.95), (2.1, 0.93), (2.3, 0.96),
    (2.4, 0.89), (2.6, 0.93), (2.8, 0.86), (3.0, 0.91), (3.2, 0.95), (3.3, 0.88), (3.5, 0.93),
    (3.7, 0.96), (3.9, 0.91), (4.2, 0.95), (4.6, 0.93), (4.8, 0.89), (5.0, 0.95), (0.8, 0.88),
    (1.2, 0.93),
    (6.4, 1.0), (6.8, 0.99), (7.1, 1.0), (7.5, 0.99), (7.8, 1.0), (8.2, 0.99), (8.5, 1.0),
    (8.9, 1.0), (9.3, 1.0), (9.4, 0.98), (9.6, 1.0), (9.8, 0.98), (10.0, 0.99), (10.2, 0.96),
    (10.3, 0.98), (10.5, 1.0), (10.7, 0.95), (10.9, 0.98), (11.1, 0.95), (11.2, 0.98),
    (11.4, 0.96), (11.6, 0.93), (11.8, 0.95), (12.0, 0.98), (12.1, 0.92), (12.5, 0.91),
    (12.9, 1.0), (13.2, 0.89), (13.4, 0.99),
    (1.5, 0.77), (1.7, 0.79), (1.9, 0.75), (2.1, 0.70), (2.3, 0.64), (2.8, 0.77), (3.0, 0.72),
    (3.0, 0.66), (3.2, 0.61), (2.6, 0.68), (1.2, 0.70), (0.5, 0.62), (1.2, 0.50), (1.0, 0.41),
    (2.4, 0.43), (2.6, 0.39), (2.8, 0.38), (2.3, 0.47), (3.5, 0.34), (4.2, 0.36), (4.8, 0.38),
    (4.6, 0.18), (4.4, 0.13), (2.4, 0.13), (2.6, 0.09), (3.2, 0.09), (3.7, 0.11), (2.4, 0.02),
    (3.0, -0.02), (3.5, -0.03), (3.9, -0.02), (1.2, -0.07), (0.8, -0.08), (0.1, 0.0),
    (1.5, -0.30), (1.9, -0.37), (1.0, -0.42), (0.8, -0.51), (1.9, -0.44), (1.7, -0.49),
    (2.3, -0.51), (2.4, -0.48), (2.6, -0.55), (2.8, -0.49), (3.0, -0.57), (3.2, -0.53),
    (3.5, -0.51), (3.7, -0.55), (4.1, -0.49), (0.6, -0.61), (0.3, -0.62), (0.6, -0.69),
    (1.7, -0.61), (1.9, -0.64), (2.4, -0.62), (2.8, -0.66), (3.0, -0.69), (3.0, -0.74),
    (2.8, -0.80), (2.6, -0.78), (1.4, -0.78), (1.5, -0.80), (3.5, -0.76), (4.4, -0.78),
    (4.6, -0.80), (2.4, -0.83), (3.2, -0.85), (3.9, -0.87), (4.8, -0.87), (1.7, -0.89),
    (2.1, -0.90), (2.8, -0.90), (3.5, -0.92), (4.1, -0.94), (5.0, -0.92), (1.4, -0.96),
    (0.5, -0.99), (1.0, -0.99), (1.5, -0.99), (1.9, -0.99), (2.3, -0.98), (2.6, -0.99),
    (3.0, -0.98), (3.3, -0.99), (3.7, -0.98), (4.1, -0.99), (4.4, -0.98), (4.8, -0.99),
    (5.1, -0.98), (5.5, -0.99), (5.9, -0.98), (6.2, -0.99), (6.8, -0.98), (6.9, -0.96),
    (8.0, -0.96), (8.2, -0.99), (8.9, -0.99), (9.3, -0.98), (9.6, -0.98), (10.0, -0.99),
    (10.3, -0.98), (10.5, -0.96), (10.7, -0.98), (10.9, -0.94), (11.1, -0.97), (11.2, -0.92),
    (11.4, -0.96), (11.6, -0.90), (11.8, -0.94), (12.0, -0.89), (12.1, -0.87), (12.3, -0.90),
    (12.7, -0.85), (12.9, -0.99), (13.9, -0.94),
    (7.3, 0.77), (7.1, 0.75), (6.9, 0.71), (9.1, 0.62), (13.2, 0.36), (20.3, -0.27),
    (12.0, -0.41), (8.2, -0.60), (8.4, -0.62), (7.5, -0.68), (8.2, -0.72),
]

titles = ["B4", "B4", "B4", "B5", "B5", "B5"]
labels = ["Sin \u03b4", "Sin \u03b1", "Sin \u03b2", "Sin \u03b4", "Sin \u03b1", "Sin \u03b2"]
panels = [
    (b4_delta_nh, b4_delta_ih), (b4_alpha_nh, b4_alpha_ih), (b4_beta_nh, b4_beta_ih),
    (b5_delta_nh, b5_delta_ih), (b5_alpha_nh, b5_alpha_ih), (b5_beta_nh, b5_beta_ih),
]
xmax = [0.015, 0.015, 0.015, 0.025, 0.025, 0.025]
xstep = [0.002, 0.002, 0.002, 0.005, 0.005, 0.005]

plt.rcParams["font.family"] = ["Liberation Sans", "DejaVu Sans"]
plt.rcParams["axes.unicode_minus"] = False
plt.rcParams["mathtext.fontset"] = "custom"
plt.rcParams["mathtext.rm"] = "Liberation Sans"
plt.rcParams["mathtext.it"] = "Liberation Sans"

NH_COLOR = "#ff0000"
IH_COLOR = "#00ff00"

W, H = 789, 552
fig = plt.figure(figsize=(W / 100, H / 100), dpi=100)

lefts = [4, 267, 530]
tops = [46, 322]
aw, ah = 232, 206

for i, (nh, ih) in enumerate(panels):
    row, col = divmod(i, 3)
    ax = fig.add_axes([lefts[col] / W, 1 - (tops[row] + ah) / H, aw / W, ah / H])

    df = pd.concat([
        pd.DataFrame(nh, columns=["m", "s"]).assign(h="NH"),
        pd.DataFrame(ih, columns=["m", "s"]).assign(h="IH"),
    ])
    df["m"] = df["m"] * 1e-3

    sns.scatterplot(data=df[df.h == "NH"], x="m", y="s", color=NH_COLOR, marker="+",
                    s=16, linewidth=0.8, ax=ax, legend=False, zorder=2)
    sns.scatterplot(data=df[df.h == "IH"], x="m", y="s", color=IH_COLOR, marker="x",
                    s=11, linewidth=0.8, ax=ax, legend=False, zorder=3)

    ax.set_xlim(0, xmax[i])
    ax.set_ylim(-1.1, 1.1)
    ax.set_xlabel("")
    ax.set_ylabel("")
    ax.xaxis.set_major_locator(MultipleLocator(xstep[i]))
    ax.yaxis.set_major_locator(MultipleLocator(0.5))
    ax.xaxis.set_major_formatter(FuncFormatter(lambda v, p: f"{v:.3f}".rstrip("0").rstrip(".") if v else "0"))
    ax.yaxis.set_major_formatter(FuncFormatter(lambda v, p: f"{v:g}"))
    ax.tick_params(direction="in", length=4.5, width=0.9, top=True, right=True,
                   labelsize=6.5, labelfontfamily="Liberation Serif", pad=9,
                   colors="#222222", labelcolor="black")
    # the left column's y labels sit outside the page in the original
    ax.tick_params(axis="y", pad=6, labelleft=(col != 0))
    for sp in ax.spines.values():
        sp.set_linewidth(1.0)
        sp.set_color("#222222")

    ax.text(0.5, 1.112, titles[i], transform=ax.transAxes, ha="center", va="center", fontsize=6)
    tx = 0.80 if row == 0 else 0.60
    ax.text(tx, 0.727, labels[i], transform=ax.transAxes, ha="left", va="center", fontsize=8)

    handles = [
        Line2D([], [], linestyle="none", marker="+", color=NH_COLOR, markersize=4, markeredgewidth=0.8),
        Line2D([], [], linestyle="none", marker="x", color=IH_COLOR, markersize=3.5, markeredgewidth=0.8),
    ]
    leg = ax.legend(handles, ["NH", "IH"], loc="upper right", bbox_to_anchor=(0.961, 0.969),
                    borderaxespad=0, markerfirst=False, fontsize=6, labelspacing=-0.15,
                    borderpad=0.15, handlelength=3.8, handletextpad=2.0, fancybox=False,
                    framealpha=1, edgecolor="black")
    leg.get_frame().set_linewidth(1.0)

fig.text(730 / W, 1 - 284 / H, r"m$_{\rm lightest}$(eV)", ha="left", va="center", fontsize=7)

fig.savefig("out.png", dpi=100)
